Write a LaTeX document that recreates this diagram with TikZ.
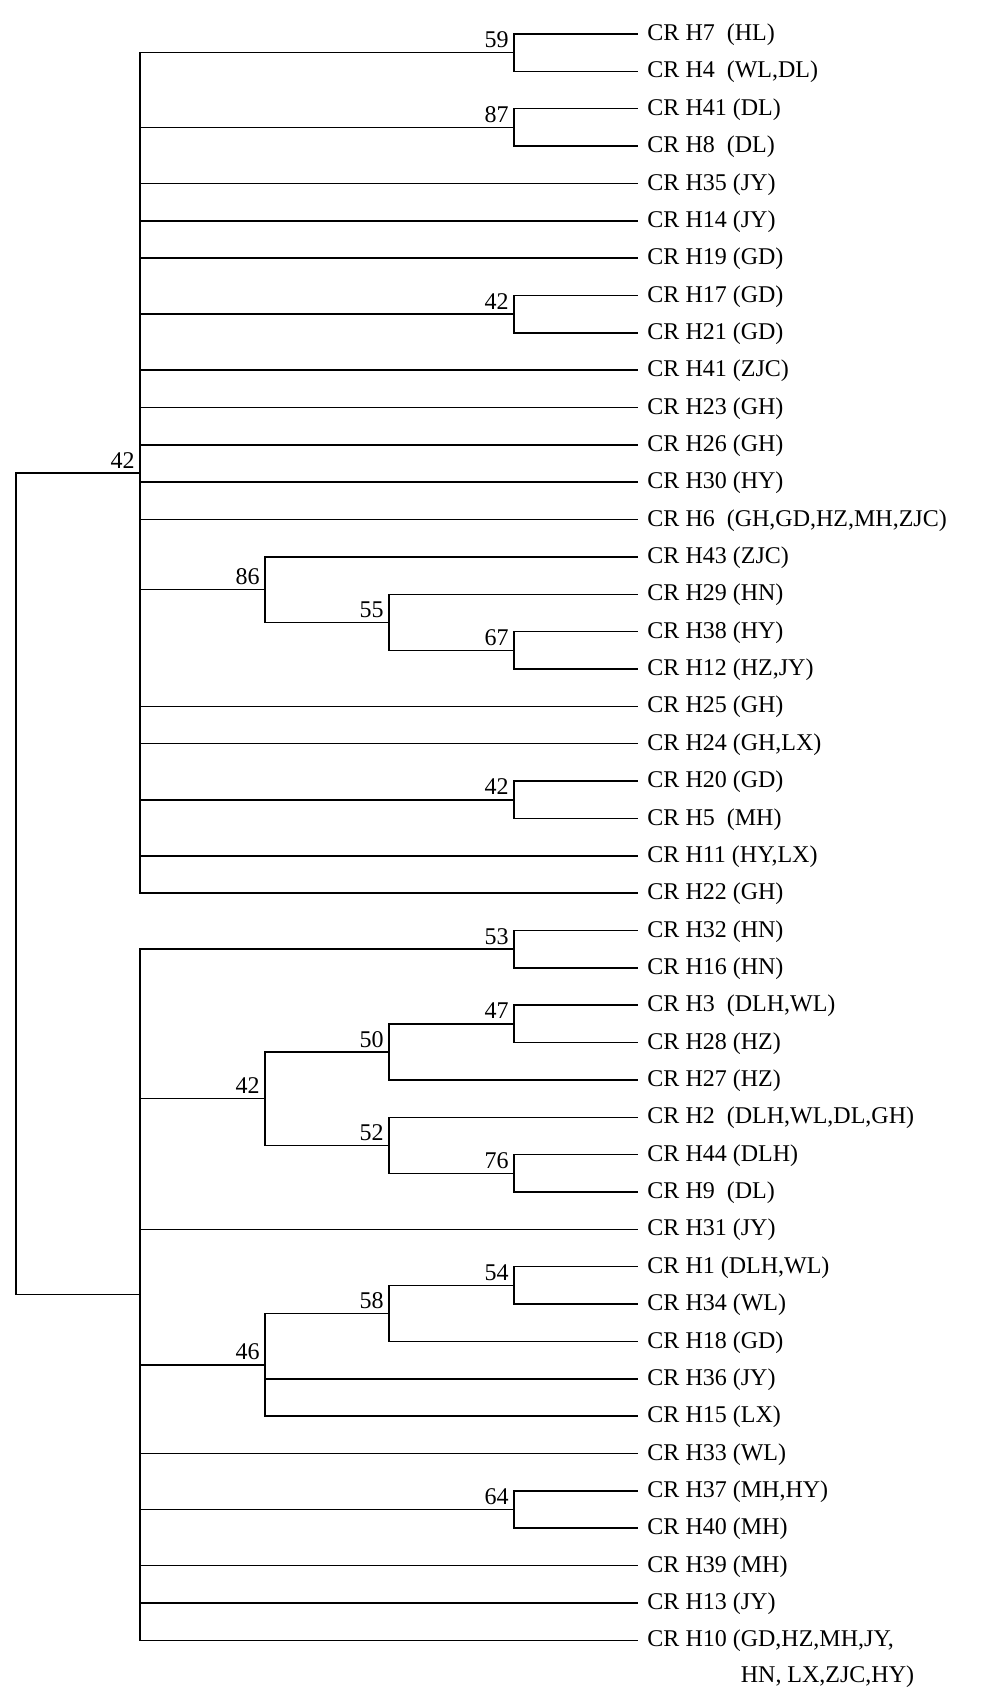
\documentclass[tikz,border=0pt]{standalone}
\usepackage{fontspec}
\setmainfont{Liberation Serif}
\usepackage{tikz}

\begin{document}
\begin{tikzpicture}[
      x=0.5pt, y=-18.675pt,
      leaf/.style={
         anchor=west,
         inner xsep=4.5pt,
         inner ysep=0pt,
         text height=0.66em,
         text depth=0pt,
         font=\fontsize{12}{14}\selectfont},
      boot/.style={
         anchor=south east,
         inner xsep=2.5pt,
         inner ysep=2.25pt,
         text height=0.66em,
         text depth=0pt,
         font=\fontsize{12}{14}\selectfont},
      branch/.style={
         draw=black,
         line width=0.75pt},
      ]
      \useasboundingbox (0,0.09) rectangle (1000,45.6);

      % leaves
      \foreach \txt [count=\k] in {
        CR H7~ (HL), {CR H4~ (WL,DL)}, CR H41 (DL), CR H8~ (DL),
        CR H35 (JY), CR H14 (JY), CR H19 (GD), CR H17 (GD), CR H21 (GD),
        CR H41 (ZJC), CR H23 (GH), CR H26 (GH), CR H30 (HY),
        {CR H6~ (GH,GD,HZ,MH,ZJC)}, CR H43 (ZJC), CR H29 (HN), CR H38 (HY),
        {CR H12 (HZ,JY)}, CR H25 (GH), {CR H24 (GH,LX)}, CR H20 (GD),
        CR H5~ (MH), {CR H11 (HY,LX)}, CR H22 (GH),
        CR H32 (HN), CR H16 (HN), {CR H3~ (DLH,WL)}, CR H28 (HZ),
        CR H27 (HZ), {CR H2~ (DLH,WL,DL,GH)}, CR H44 (DLH), CR H9~ (DL),
        CR H31 (JY), {CR H1 (DLH,WL)}, CR H34 (WL), CR H18 (GD),
        CR H36 (JY), CR H15 (LX), CR H33 (WL), {CR H37 (MH,HY)},
        CR H40 (MH), CR H39 (MH), CR H13 (JY), {CR H10 (GD,HZ,MH,JY,}}
        \node[leaf] (t\k) at (638,\k) {\txt};
      % second line of H10
      \node[leaf] (t44b) at (638,44.95) {\hphantom{CR H10 (}HN, LX,ZJC,HY)};

      % inner nodes
      \coordinate (root) at (16,23.75);
      \coordinate (up)   at (140,12.75);
      \coordinate (low)  at (140,34.75);
      \foreach \c/\x/\y in {% name/x/leaf row
        b59/514/1.5, b87/514/3.5, b42a/514/8.5,
        b86/265/15.875, b55/389/16.75, b67/514/17.5, b42b/514/21.5,
        b53/514/25.5, b42c/265/29.5, b50/389/28.25, b47/514/27.5,
        b52/389/30.75, b76/514/31.5,
        b46/265/36.625, b58/389/35.25, b54/514/34.5, b64/514/40.5}
        \coordinate (\c) at (\x,\y);

      %%% inner branches
      \foreach \i/\j in {% parent/child
        root/up, root/low,
        up/b59, up/b87, up/b42a, up/b86, up/b42b,
        b86/b55, b55/b67,
        low/b53, low/b42c, low/b46, low/b64,
        b42c/b50, b42c/b52, b50/b47, b52/b76,
        b46/b58, b58/b54}
        \draw[branch] (\i) |- (\j);

      %%% branches to leaves
      \foreach \i/\j in {% parent/leaf
        b59/1, b59/2, b87/3, b87/4, up/5, up/6, up/7, b42a/8, b42a/9,
        up/10, up/11, up/12, up/13, up/14, b86/15, b55/16, b67/17, b67/18,
        up/19, up/20, b42b/21, b42b/22, up/23, up/24,
        b53/25, b53/26, b47/27, b47/28, b50/29, b52/30, b76/31, b76/32,
        low/33, b54/34, b54/35, b58/36, b46/37, b46/38, low/39,
        b64/40, b64/41, low/42, low/43, low/44}
        \draw[branch] (\i) |- (t\j.west);

      % bootstrap values
      \foreach \c/\v in {
        up/42, b59/59, b87/87, b42a/42, b86/86, b55/55, b67/67, b42b/42,
        b53/53, b42c/42, b50/50, b47/47, b52/52, b76/76,
        b46/46, b58/58, b54/54, b64/64}
        \node[boot] (l\c) at (\c) {\v};
\end{tikzpicture}
\end{document}
